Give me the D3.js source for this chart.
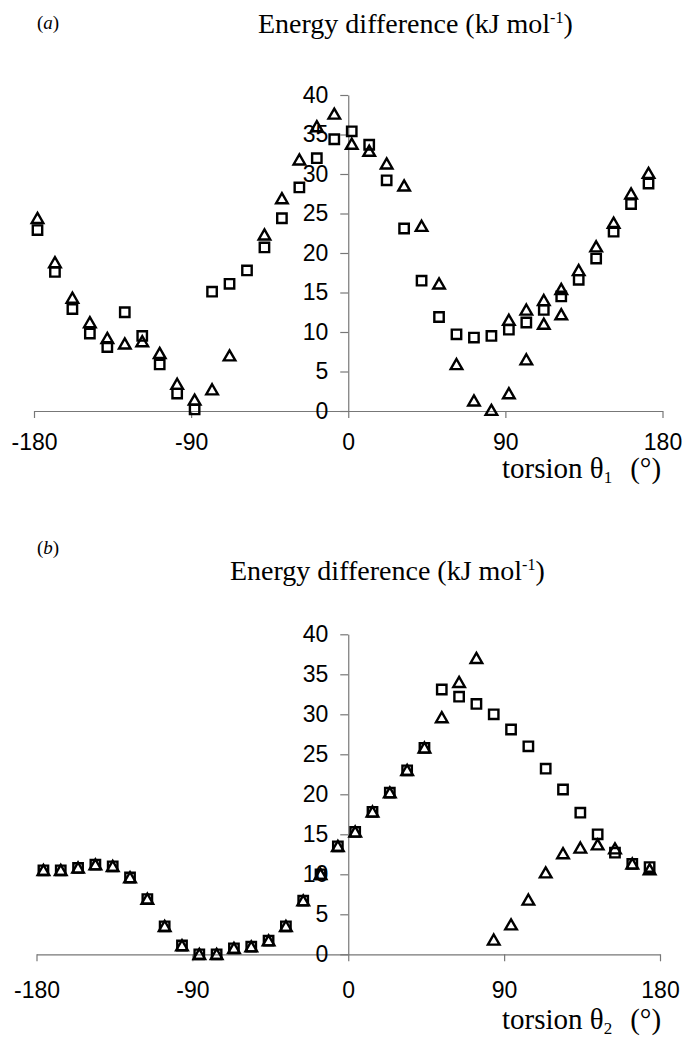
<!DOCTYPE html>
<html>
<head>
<meta charset="utf-8">
<script src="https://cdn.jsdelivr.net/npm/d3@7"></script>
<style>
  html, body { margin: 0; padding: 0; background: #fff; }
  svg { display: block; }
</style>
</head>
<body>
<div id="chart"></div>
<script>
// ---------- DATA ----------
const xTicks = [-180, -90, 0, 90, 180];
const yTicks = [0, 5, 10, 15, 20, 25, 30, 35, 40];

// panel (a): torsion theta1
const anglesA = [-178, -168, -158, -148, -138, -128, -118, -108, -98, -88, -78, -68, -58, -48, -38, -28, -18, -8,
                 2, 12, 22, 32, 42, 52, 62, 72, 82, 92, 102, 112, 122, 132, 142, 152, 162, 172];
const squaresA = [22.9, 17.6, 12.9, 9.8, 8.1, 12.5, 9.5, 5.9, 2.2, 0.2, 15.1, 16.1, 17.8, 20.7, 24.4, 28.3, 32.0, 34.4,
                  35.4, 33.7, 29.2, 23.1, 16.5, 11.9, 9.7, 9.3, 9.5, 10.3, 11.2, 12.8, 14.5, 16.6, 19.3, 22.7, 26.2, 28.8];
const trianglesA = [24.4, 18.8, 14.3, 11.2, 9.2, 8.5, 8.8, 7.3, 3.4, 1.4, 2.7, 7.0, null, 22.3, 26.9, 31.8, 36.0, 37.6,
                    33.8, 32.9, 31.3, 28.5, 23.4, 16.1, 5.9, 1.3, 0.1, 2.2, 6.5, 11.0, 12.2, 17.8, 20.8, 23.8, 27.5, 30.1];
const trianglesA2 = [null, null, null, null, null, null, null, null, null, null, null, null, null, null, null, null, null, null,
                     null, null, null, null, null, null, null, null, null, 11.5, 12.8, 14.0, 15.4, null, null, null, null, null];

// panel (b): torsion theta2
const anglesB = [-176, -166, -156, -146, -136, -126, -116, -106, -96, -86, -76, -66, -56, -46, -36, -26, -16, -6,
                 4, 14, 24, 34, 44, 54, 64, 74, 84, 94, 104, 114, 124, 134, 144, 154, 164, 174];
const squaresB = [10.5, 10.5, 10.8, 11.2, 11.0, 9.6, 6.9, 3.5, 1.1, 0.0, 0.0, 0.75, 0.95, 1.7, 3.5, 6.7, 10.0, 13.5,
                  15.3, 17.8, 20.2, 23.0, 25.8, 33.1, 32.2, 31.3, 30.0, 28.1, 26.0, 23.2, 20.6, 17.7, 15.0, 12.7, 11.3, 10.9];
const trianglesB = [10.5, 10.5, 10.8, 11.2, 11.0, 9.6, 6.9, 3.5, 1.1, 0.0, 0.0, 0.75, 0.95, 1.7, 3.5, 6.7, 10.0, 13.5,
                    15.3, 17.8, 20.2, 23.0, 25.8, 29.6, 34.0, 37.0, 1.8, 3.7, 6.8, 10.2, 12.6, 13.3, 13.7, 13.2, 11.3, 10.6];

// ---------- LAYOUT ----------
const W = 685, H = 1039;
const svg = d3.select("#chart").append("svg").attr("width", W).attr("height", H);

const panels = [
  { letter: "a", sub: "1", angles: anglesA, sq: squaresA, tri: [trianglesA, trianglesA2],
    x0: 34, x1: 662.5, yTop: 95, yBot: 411, tickPad: 16,
    letterY: 29, titleX: 258, titleY: 33, xlabY: 478 },
  { letter: "b", sub: "2", angles: anglesB, sq: squaresB, tri: [trianglesB],
    x0: 36.5, x1: 660, yTop: 634.3, yBot: 954.3, tickPad: 20,
    letterY: 554, titleX: 230, titleY: 580, xlabY: 1029 }
];

const axisColor = "#777";
const sqPath = "M-4.7,-4.7H4.7V4.7H-4.7Z";
const triPath = "M0,-5.4L5.8,4.7H-5.8Z";
const serif = "'Liberation Serif', 'Times New Roman', serif";

panels.forEach(p => {
  const x = d3.scaleLinear().domain([-180, 180]).range([p.x0, p.x1]);
  const y = d3.scaleLinear().domain([0, 40]).range([p.yBot, p.yTop]);
  const g = svg.append("g");

  // x axis at y=0
  const xa = g.append("g").attr("transform", `translate(0,${y(0)})`)
    .call(d3.axisBottom(x).tickValues(xTicks).tickSize(7).tickSizeOuter(0).tickPadding(p.tickPad).tickFormat(d => String(d)));
  // y axis at x=0
  const ya = g.append("g").attr("transform", `translate(${x(0)},0)`)
    .call(d3.axisLeft(y).tickValues(yTicks).tickSize(8).tickSizeOuter(0).tickPadding(12).tickFormat(d => String(d)));

  [xa, ya].forEach(a => {
    a.select(".domain").attr("stroke", axisColor).attr("stroke-width", 1.2);
    a.selectAll(".tick line").attr("stroke", axisColor).attr("stroke-width", 1.2);
    a.selectAll(".tick text").attr("fill", "#000")
      .style("font-family", "'Liberation Sans', Arial, sans-serif").style("font-size", "23px");
  });

  // markers
  const sqData = p.angles.map((a, i) => [a, p.sq[i]]).filter(d => d[1] != null);
  g.append("g").selectAll("path").data(sqData).join("path")
    .attr("d", sqPath)
    .attr("transform", d => `translate(${x(d[0])},${y(d[1])})`)
    .attr("fill", "none").attr("stroke", "#000").attr("stroke-width", 2.4);
  p.tri.forEach(arr => {
    const tData = p.angles.map((a, i) => [a, arr[i]]).filter(d => d[1] != null);
    g.append("g").selectAll("path").data(tData).join("path")
      .attr("d", triPath)
      .attr("transform", d => `translate(${x(d[0])},${y(d[1])})`)
      .attr("fill", "none").attr("stroke", "#000").attr("stroke-width", 2.4).attr("stroke-linejoin", "miter");
  });

  // panel letter
  const lt = svg.append("text").attr("x", 37).attr("y", p.letterY)
    .style("font-family", serif).style("font-size", "19px");
  lt.append("tspan").text("(");
  lt.append("tspan").attr("font-style", "italic").text(p.letter);
  lt.append("tspan").text(")");

  // title
  const tt = svg.append("text").attr("x", p.titleX).attr("y", p.titleY)
    .style("font-family", serif).style("font-size", "28px");
  tt.append("tspan").text("Energy difference (kJ mol");
  tt.append("tspan").attr("dy", -10).style("font-size", "16px").text("-1");
  tt.append("tspan").attr("dy", 10).text(")");

  // x label
  const xl = svg.append("text").attr("x", 502).attr("y", p.xlabY)
    .style("font-family", serif).style("font-size", "29px");
  xl.append("tspan").text("torsion θ");
  xl.append("tspan").attr("dy", 5).style("font-size", "17px").text(p.sub);
  xl.append("tspan").attr("dy", -5).attr("dx", 18).text("(°)");
});
</script>
</body>
</html>
